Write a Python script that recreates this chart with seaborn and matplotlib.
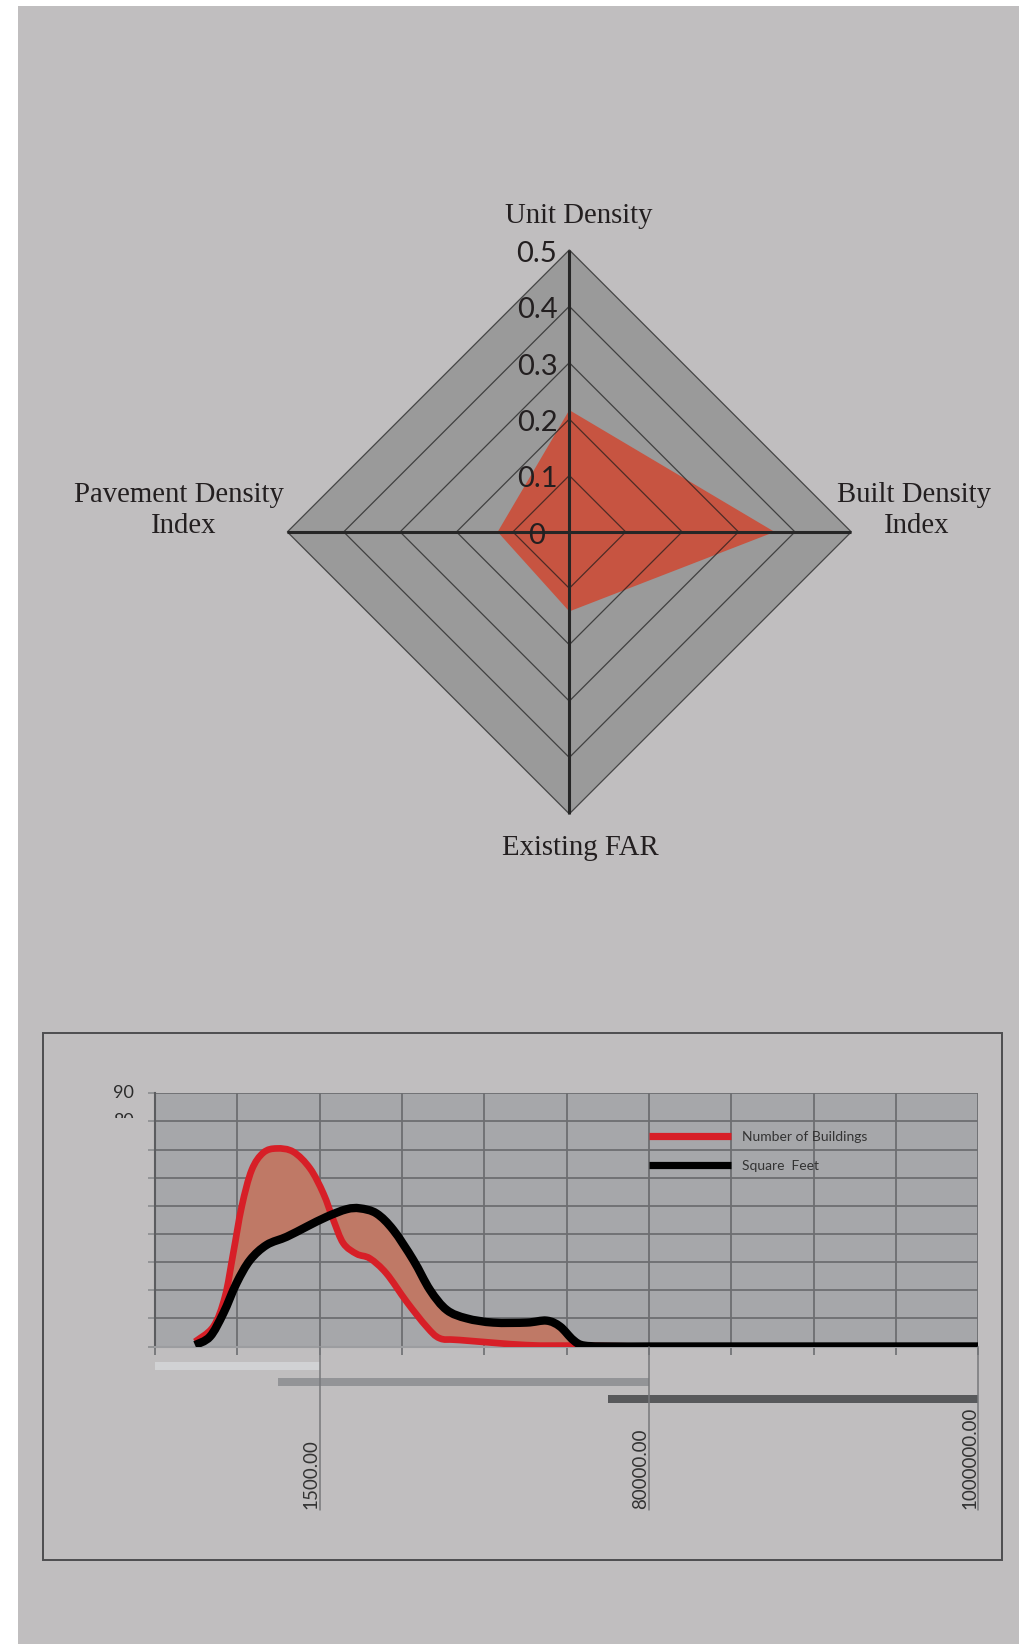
import numpy as np
import matplotlib
matplotlib.use("Agg")
import matplotlib.pyplot as plt
import matplotlib.transforms as mtransforms
from matplotlib.path import Path
from matplotlib.patches import PathPatch, Rectangle, Polygon
from matplotlib.lines import Line2D
import seaborn as sns

# ---------------- data ----------------
radar_axes = ["Unit Density", "Built Density\nIndex", "Existing FAR", "Pavement Density\nIndex"]
radar_values = [0.216, 0.364, 0.141, 0.127]
radar_levels = [0, 0.1, 0.2, 0.3, 0.4, 0.5]
radar_level_labels = ["0", "0.1", "0.2", "0.3", "0.4", "0.5"]

red_x = [0.486, 0.709, 0.85, 0.95, 1.053, 1.174, 1.316, 1.478, 1.68, 1.883, 2.045, 2.166,
         2.287, 2.45, 2.61, 2.81, 3.057, 3.3, 3.46, 3.7, 4.51, 5.12, 6.0, 7.0, 8.0, 9.0, 9.5]
red_y = [1.7, 7.1, 17.7, 33.1, 49.7, 62.7, 68.9, 70.4, 69.2, 63.3, 54.4, 45.0,
         36.7, 32.9, 31.3, 26.0, 15.9, 7.0, 2.9, 2.3, 0.5, 0.3, 0, 0, 0, 0, 0]
black_x = [0.486, 0.668, 0.83, 0.99, 1.154, 1.356, 1.6, 1.842, 2.085, 2.328, 2.49, 2.69,
           2.895, 3.138, 3.34, 3.543, 3.785, 4.109, 4.514, 4.757, 4.92, 5.08, 5.22, 5.6,
           6, 7, 8, 9, 10]
black_y = [0.5, 3.5, 11.8, 22.5, 30.7, 36.1, 39.0, 42.6, 46.1, 48.8, 49.1, 47.3,
           41.4, 30.7, 20.1, 13.0, 10.0, 8.5, 8.5, 9.2, 7.1, 2.3, 0.3, 0,
           0, 0, 0, 0, 0]
series_names = ["Number of Buildings", "Square  Feet"]
y_ticks = [0, 10, 20, 30, 40, 50, 60, 70, 80, 90]
x_ticks = list(range(11))

bar_names = ["small", "medium", "large"]
bar_starts = [0.0, 1.5, 5.5]
bar_ends = [2.0, 6.0, 10.0]
bar_colors = ["#d1d2d4", "#939497", "#58595b"]

range_ticks = [2, 6, 10]
range_labels = ["1500.00", "80000.00", "1000000.00"]

# ---------------- style ----------------
sns.set_theme(style="white")
plt.rcParams["font.family"] = ["Lato", "DejaVu Sans"]

W, H = 1019, 1644
fig = plt.figure(figsize=(W / 100, H / 100), dpi=100)
fig.patch.set_facecolor("white")
BG = "#c0bebf"
TXT = "#231f20"
fig.add_artist(Rectangle((18 / W, 0), 1, 1 - 6 / H, transform=fig.transFigure,
                         facecolor=BG, edgecolor="none", zorder=-10))


def fx(px):
    return px / W


def fy(py):
    return 1 - py / H


# ---------------- radar ----------------
cx, cy = 569.3, 531.9
rr = 282.0
rax = fig.add_axes([fx(cx - rr), fy(cy + rr), 2 * rr / W, 2 * rr / H])
rax.set_xlim(-0.5, 0.5)
rax.set_ylim(-0.5, 0.5)
rax.set_axis_off()
n = len(radar_axes)
ang = np.pi / 2 - np.arange(n) * 2 * np.pi / n
rmax = radar_levels[-1]
outer = np.column_stack([rmax * np.cos(ang), rmax * np.sin(ang)])
rax.add_patch(Polygon(outer, closed=True, facecolor="#9a9a9a", edgecolor="none", zorder=1, clip_on=False))
vals = np.array(radar_values)
rax.add_patch(Polygon(np.column_stack([vals * np.cos(ang), vals * np.sin(ang)]), closed=True,
                      facecolor="#c75441", edgecolor="none", zorder=2, clip_on=False))
for r in radar_levels[1:]:
    ring = np.column_stack([r * np.cos(ang), r * np.sin(ang)])
    rax.add_patch(Polygon(ring, closed=True, facecolor="none", edgecolor=(0.1, 0.1, 0.1, 0.7),
                          lw=0.9, zorder=3, clip_on=False))
for a in ang:
    rax.plot([0, rmax * np.cos(a)], [0, rmax * np.sin(a)], color="#262626", lw=2.2,
             zorder=4, clip_on=False, solid_capstyle="butt")
for r, lab in zip(radar_levels, radar_level_labels):
    rax.text(-0.0573, r - 0.007, lab, ha="center", va="center", fontsize=21, color=TXT,
             family=["Lato", "DejaVu Sans"], zorder=5)

serif = ["Liberation Serif", "DejaVu Serif"]
lab_kw = dict(fontsize=20.7, color=TXT, family=serif, va="baseline", ha="center")
rax.text(0.0172, 0.547, "Unit Density", **lab_kw)
rax.text(0.019, -0.573, "Existing FAR", **lab_kw)
rax.text(0.6105, 0.0532, "Built Density", **lab_kw)
rax.text(0.6165, -0.0018, "Index", **lab_kw)
rax.text(-0.692, 0.0532, "Pavement Density", **lab_kw)
rax.text(-0.6845, -0.0018, "Index", **lab_kw)

# ---------------- bottom chart ----------------
fig.add_artist(Rectangle((fx(43), fy(1560)), fx(1001.7) - fx(43), fy(1033) - fy(1560),
                         transform=fig.transFigure, facecolor="none", edgecolor="#4d4d4f",
                         lw=1.4, zorder=-5))

L, R, T, B = 155, 978.3, 1093.3, 1346.5
ax2 = fig.add_axes([fx(L), fy(B), (R - L) / W, (B - T) / H])
ax2.set_facecolor("#a6a7aa")
ax2.set_xlim(0, 10)
ax2.set_ylim(0, 90)
ax2.set_xticks(x_ticks)
ax2.set_yticks(y_ticks)
ax2.grid(True, color="#6d6e71", lw=1.3)
ax2.set_axisbelow(True)
for s in ["top", "right"]:
    ax2.spines[s].set_visible(False)
ax2.spines["left"].set_color("#5b5c5f")
ax2.spines["left"].set_linewidth(1.5)
ax2.spines["bottom"].set_color("#9c9da0")
ax2.spines["bottom"].set_linewidth(1.5)
ax2.tick_params(axis="y", length=5, width=1.2, color="#8c8d90", left=True, labelleft=False)
ax2.tick_params(axis="x", length=6, width=1.2, color="#6d6e71", bottom=True, labelbottom=False)


def smooth(xs, ys):
    pts = np.column_stack([xs, ys]).astype(float)
    m = len(pts)
    verts = [pts[0]]
    codes = [Path.MOVETO]
    for i in range(m - 1):
        p0 = pts[i - 1] if i > 0 else pts[i]
        p1, p2 = pts[i], pts[i + 1]
        p3 = pts[i + 2] if i + 2 < m else pts[i + 1]
        verts += [p1 + (p2 - p0) / 6, p2 - (p3 - p1) / 6, p2]
        codes += [Path.CURVE4] * 3
    return np.array(verts), codes


rv, rc = smooth(red_x, red_y)
bv, bc = smooth(black_x, black_y)
fill_verts = np.vstack([rv, bv[::-1], rv[:1]])
fill_codes = rc + [Path.LINETO] + [Path.CURVE4] * (len(bv) - 1) + [Path.CLOSEPOLY]
ax2.add_patch(PathPatch(Path(fill_verts, fill_codes), facecolor="#bf7966", edgecolor="none", zorder=2))
RED = "#d71f27"
ax2.add_patch(PathPatch(Path(rv, rc), facecolor="none", edgecolor=RED, lw=4.8,
                        capstyle="butt", joinstyle="round", zorder=3))
ax2.add_patch(PathPatch(Path(bv, bc), facecolor="none", edgecolor="black", lw=6.0,
                        capstyle="butt", joinstyle="round", zorder=4))

handles = [Line2D([], [], color=RED, lw=5.2, solid_capstyle="butt"),
           Line2D([], [], color="black", lw=5.2, solid_capstyle="butt")]
ax2.legend(handles, series_names, loc="upper left", bbox_to_anchor=(0.6, 0.852), frameon=False,
           fontsize=10, handlelength=5.9, handletextpad=0.8, labelspacing=1.24,
           borderpad=0, borderaxespad=0, labelcolor="#333333")

ylab_tr = mtransforms.blended_transform_factory(ax2.transAxes, ax2.transData)
ax2.text(-0.0255, y_ticks[-1], str(y_ticks[-1]), transform=ylab_tr, ha="right", va="center",
         fontsize=13, color="#2b2b2b")
t80 = ax2.text(-0.0255, y_ticks[-2], str(y_ticks[-2]), transform=ylab_tr, ha="right",
               va="center", fontsize=13, color="#2b2b2b")
t80.set_clip_box(mtransforms.TransformedBbox(mtransforms.Bbox([[0, fy(1117.5)], [1, 1]]),
                                             fig.transFigure))
t80.set_clip_on(True)

# range bars below axis
ax3 = fig.add_axes([fx(L), fy(1407.1), (R - L) / W, 49.5 / H])
sns.barplot(x=bar_ends, y=bar_names, hue=bar_names, palette=bar_colors, saturation=1,
            width=0.47, errorbar=None, ax=ax3, linewidth=0, legend=False)
for patch, s, e in zip(sorted(ax3.patches, key=lambda p: p.get_y()), bar_starts, bar_ends):
    patch.set_x(s)
    patch.set_width(e - s)
ax3.set_xlim(0, 10)
ax3.set_ylim(2.5, -0.5)
ax3.set_axis_off()
ax3.patch.set_alpha(0)

tr = mtransforms.blended_transform_factory(ax2.transData, fig.transFigure)
for xv, lab in zip(range_ticks, range_labels):
    fig.add_artist(Line2D([xv, xv], [fy(B), fy(1510)], transform=tr, color="#77787b", lw=1.1, zorder=5))
    fig.text(xv, fy(1509), lab, transform=tr, rotation=90, ha="right", va="bottom",
             fontsize=13.5, color="#333333")

fig.savefig("out.png", dpi=100, facecolor=fig.get_facecolor())
